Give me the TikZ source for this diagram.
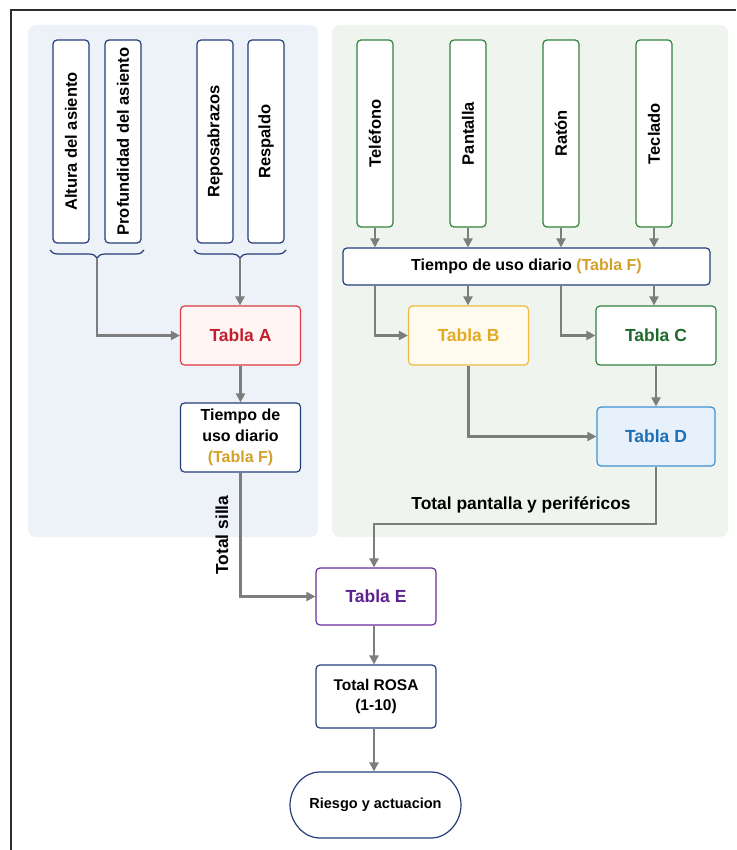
\documentclass[tikz,border=0pt]{standalone}
\usepackage{fontspec}
\setmainfont{Liberation Sans}
\usetikzlibrary{arrows.meta,decorations.pathreplacing,shapes.misc}

\definecolor{navyline}{RGB}{35,62,122}
\definecolor{flowgray}{RGB}{125,125,125}
\definecolor{framegray}{RGB}{45,45,45}
\definecolor{panelblue}{RGB}{237,242,248}
\definecolor{panelgreen}{RGB}{239,245,238}
\definecolor{redline}{RGB}{221,58,66}
\definecolor{redtext}{RGB}{196,30,44}
\definecolor{redfill}{RGB}{255,245,245}
\definecolor{goldline}{RGB}{240,186,62}
\definecolor{goldtext}{RGB}{228,170,38}
\definecolor{goldfill}{RGB}{255,251,238}
\definecolor{tabf}{RGB}{212,160,40}
\definecolor{devgreen}{RGB}{50,128,58}
\definecolor{greentext}{RGB}{30,105,42}
\definecolor{blueline}{RGB}{62,145,208}
\definecolor{bluefill}{RGB}{230,241,251}
\definecolor{bluetext}{RGB}{30,112,180}
\definecolor{purpleline}{RGB}{108,46,156}
\definecolor{purpletext}{RGB}{92,34,144}

\tikzset{every picture/.style={line width=0.75pt}}
\tikzset{
  box/.style={draw=navyline, fill=white, rounded corners=4pt, line width=1.2pt,
    font=\bfseries\fontsize{16}{21}\selectfont, align=center, inner sep=0pt},
  seatbox/.style={box, minimum width=36pt, minimum height=203pt,
    font=\bfseries\fontsize{16.5}{20}\selectfont},
  devbox/.style={seatbox, draw=devgreen, minimum height=187pt},
  tabbox/.style={box, minimum width=120pt, minimum height=59pt,
    font=\bfseries\fontsize{17.5}{21}\selectfont},
  flow/.style={draw=flowgray, line width=2.2pt, -{Triangle[length=9pt,width=9pt]}},
  bracket/.style={draw=navyline, line width=1.2pt, decorate,
    decoration={brace, amplitude=8pt}},
  lbl/.style={font=\bfseries\fontsize{17.4}{20}\selectfont, inner sep=0pt},
}

\begin{document}
\begin{tikzpicture}[x=1pt,y=1pt,yscale=-1,xscale=1]
\useasboundingbox (0,0) rectangle (736,850);

%Frame
\draw [framegray, line width=1.5pt] (11,850) -- (11,10) -- (736,10);

%Panels
\fill [panelblue, rounded corners=8pt] (28,25) rectangle (318,537);
\fill [panelgreen, rounded corners=8pt] (332,25) rectangle (728,537);

%Chair inputs
\node [seatbox] (alt) at (71,141.5) {\rotatebox{90}{Altura del asiento}};
\node [seatbox] (prof) at (123,141.5) {\rotatebox{90}{Profundidad del asiento}};
\node [seatbox] (repo) at (215,141.5) {\rotatebox{90}{Reposabrazos}};
\node [seatbox] (resp) at (266,141.5) {\rotatebox{90}{Respaldo}};

%Braces
\draw [bracket] (144,250) -- (50,250);
\draw [bracket] (286,250) -- (194,250);
\coordinate (bl) at (97,258);
\coordinate (br) at (240,258);

%Screen and peripherals inputs
\node [devbox] (tel) at (375,133.5) {\rotatebox{90}{Teléfono}};
\node [devbox] (pan) at (468,133.5) {\rotatebox{90}{Pantalla}};
\node [devbox] (rat) at (561,133.5) {\rotatebox{90}{Ratón}};
\node [devbox] (tec) at (654,133.5) {\rotatebox{90}{Teclado}};

\node [box, minimum width=367pt, minimum height=37pt] (bar) at (526.5,266.5)
  {Tiempo de uso diario \textcolor{tabf}{(Tabla F)}};

%Tables
\node [tabbox, draw=redline, fill=redfill, text=redtext] (tabA) at (240.5,335.5) {Tabla A};
\node [box, minimum width=120pt, minimum height=69pt] (tiem) at (240.5,437.5)
  {Tiempo de\\uso diario\\\textcolor{tabf}{(Tabla F)}};
\node [tabbox, draw=goldline, fill=goldfill, text=goldtext] (tabB) at (468.5,335.5) {Tabla B};
\node [tabbox, draw=devgreen, text=greentext] (tabC) at (656,335.5) {Tabla C};
\node [tabbox, minimum width=118pt, draw=blueline, fill=bluefill, text=bluetext] (tabD) at (656,436.5) {Tabla D};
\node [tabbox, minimum height=57pt, draw=purpleline, text=purpletext] (tabE) at (376,596.5) {Tabla E};
\node [box, minimum width=120pt, minimum height=63pt, font=\bfseries\fontsize{15.5}{20}\selectfont]
  (rosa) at (376,696.5) {Total ROSA\\(1-10)};
\node [box, rounded rectangle, minimum width=171pt, minimum height=66pt,
  font=\bfseries\fontsize{14.5}{18}\selectfont] (risk) at (375.5,805) {Riesgo y actuacion};

%Arrows, chair
\draw [flow] (bl) |- (tabA.west);
\draw [flow] (br) -- (br |- tabA.north);
\draw [flow] (tabA.south) -- (tiem.north);
\draw [flow] (tiem.south) |- (tabE.west);
\node [lbl, rotate=90] (silla) at (222,535) {Total silla};

%Arrows, screen
\foreach \d in {tel,pan,rat,tec}
  \draw [flow] (\d.south) -- (\d.south |- bar.north);
\draw [flow] (tel.south |- bar.south) |- (tabB.west);
\draw [flow] (pan.south |- bar.south) -- (pan.south |- tabB.north);
\draw [flow] (rat.south |- bar.south) |- (tabC.west);
\draw [flow] (tec.south |- bar.south) -- (tec.south |- tabC.north);
\draw [flow] (tabC.south) -- (tabD.north);
\draw [flow] (tabB.south) |- (tabD.west);
\draw [flow] (tabD.south) -- ++(0,57) -| ([xshift=-2pt]tabE.north);
\node [lbl] (perif) at (521,505) {Total pantalla y periféricos};

%Result
\draw [flow] ([xshift=-2pt]tabE.south) -- ([xshift=-2pt]rosa.north);
\draw [flow] ([xshift=-2pt]rosa.south) -- ([xshift=-1.5pt]risk.north);

\end{tikzpicture}
\end{document}
